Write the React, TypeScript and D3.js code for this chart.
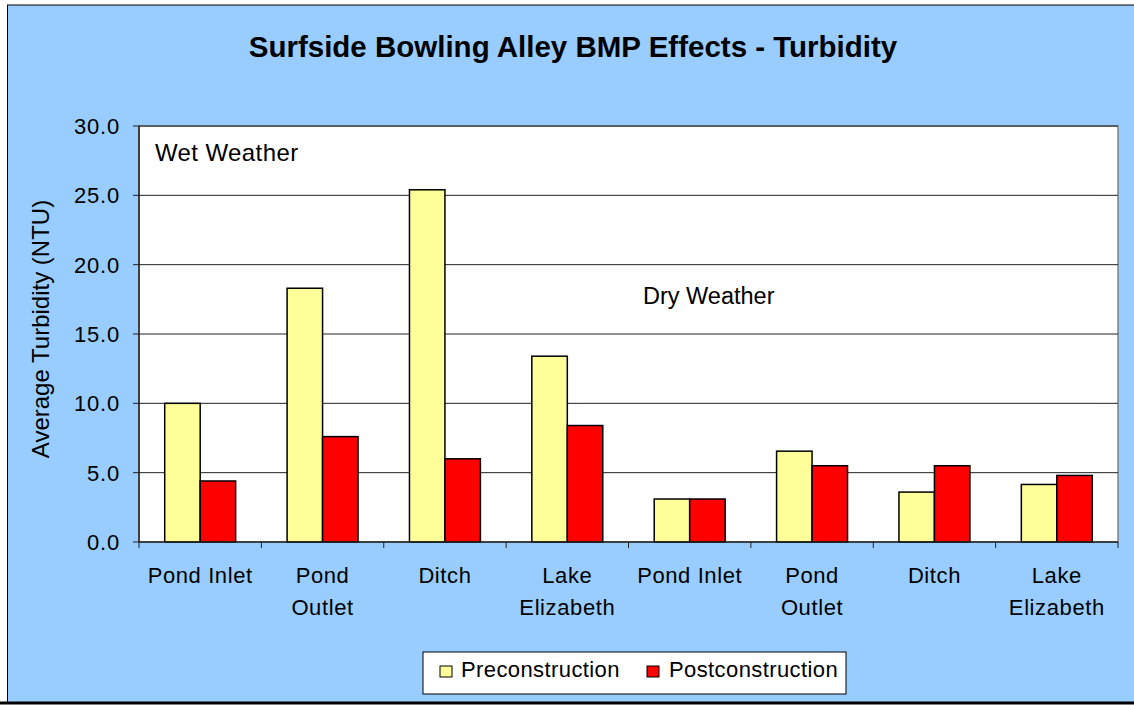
import React from "react";
import * as d3 from "d3";

const categories = ["Pond Inlet", "Pond Outlet", "Ditch", "Lake Elizabeth", "Pond Inlet", "Pond Outlet", "Ditch", "Lake Elizabeth"];
const categoryLines = [["Pond Inlet"], ["Pond", "Outlet"], ["Ditch"], ["Lake", "Elizabeth"], ["Pond Inlet"], ["Pond", "Outlet"], ["Ditch"], ["Lake", "Elizabeth"]];
const preconstruction = [10.0, 18.3, 25.4, 13.4, 3.1, 6.55, 3.6, 4.15];
const postconstruction = [4.4, 7.6, 6.0, 8.4, 3.1, 5.5, 5.5, 4.8];
const yTicks = [0, 5, 10, 15, 20, 25, 30];
const seriesNames = ["Preconstruction", "Postconstruction"];
const seriesColors = ["#FFFF99", "#FF0000"];

const W = 1134, H = 705;
const plot = { left: 139, right: 1118, top: 126, bottom: 542 };
const font = "Liberation Sans, Arial, sans-serif";

export default function App() {
  const x = d3.scaleBand<number>().domain(d3.range(categories.length)).range([plot.left, plot.right]);
  const y = d3.scaleLinear().domain([0, 30]).range([plot.bottom, plot.top]);
  const inner = d3.scaleBand<number>().domain([0, 1]).range([0, x.bandwidth()]).paddingOuter(0.725).paddingInner(0);
  const series = [preconstruction, postconstruction];

  return (
    <svg width={W} height={H} style={{ position: "absolute", left: 0, top: 0 }} fontFamily={font}>
      <rect x={0} y={0} width={W} height={H} fill="#fff" />
      <rect x={7} y={5} width={W - 7} height={697} fill="#99CCFF" />
      <line x1={7} y1={5} x2={W} y2={5} stroke="#000" strokeWidth={1} />
      <line x1={7.5} y1={5} x2={7.5} y2={703} stroke="#000" strokeWidth={1} />
      <line x1={0} y1={703} x2={W} y2={703} stroke="#000" strokeWidth={3} />

      <text x={573} y={57} textAnchor="middle" fontSize={29.5} fontWeight="bold">Surfside Bowling Alley BMP Effects - Turbidity</text>

      <rect x={plot.left} y={plot.top} width={plot.right - plot.left} height={plot.bottom - plot.top} fill="#fff" stroke="#808080" strokeWidth={1.5} />
      {yTicks.map(t => (
        <g key={t}>
          {t > 0 && <line x1={plot.left} x2={plot.right} y1={y(t)} y2={y(t)} stroke="#222" strokeWidth={1} />}
          <line x1={plot.left - 6} x2={plot.left} y1={y(t)} y2={y(t)} stroke="#222" strokeWidth={1} />
          <text x={plot.left - 19} y={y(t) + 8} textAnchor="end" fontSize={22} letterSpacing={0.8}>{t.toFixed(1)}</text>
        </g>
      ))}

      {series.map((vals, s) => vals.map((v, i) => (
        <rect key={`${s}-${i}`} x={(x(i) as number) + (inner(s) as number)} y={y(v)} width={inner.bandwidth()} height={y(0) - y(v)}
          fill={seriesColors[s]} stroke="#000" strokeWidth={1.5} />
      )))}

      <line x1={plot.left} x2={plot.left} y1={plot.top} y2={plot.bottom} stroke="#222" strokeWidth={1.5} />
      <line x1={plot.left} x2={plot.right} y1={plot.bottom} y2={plot.bottom} stroke="#222" strokeWidth={1.5} />
      {d3.range(categories.length + 1).map(i => {
        const xx = plot.left + i * x.step();
        return <line key={i} x1={xx} x2={xx} y1={plot.bottom} y2={plot.bottom + 6} stroke="#222" strokeWidth={1} />;
      })}
      {categoryLines.map((lines, i) => (
        <text key={i} x={(x(i) as number) + x.bandwidth() / 2} y={583} textAnchor="middle" fontSize={22} letterSpacing={0.6}>
          {lines.map((l, j) => <tspan key={j} x={(x(i) as number) + x.bandwidth() / 2} dy={j === 0 ? 0 : 31.5}>{l}</tspan>)}
        </text>
      ))}

      <text transform={`translate(49,329) rotate(-90)`} textAnchor="middle" fontSize={24}>Average Turbidity (NTU)</text>

      <text x={155} y={161} fontSize={24} letterSpacing={0.4}>Wet Weather</text>
      <text x={643} y={304} fontSize={23.5}>Dry Weather</text>

      <rect x={423} y={652} width={423} height={42} fill="#fff" stroke="#000" strokeWidth={1} />
      {seriesNames.map((n, s) => (
        <g key={n}>
          <rect x={440 + s * 207} y={666} width={12} height={11} fill={seriesColors[s]} stroke="#000" strokeWidth={1} />
          <text x={461 + s * 208} y={677} fontSize={22} letterSpacing={0.4}>{n}</text>
        </g>
      ))}
    </svg>
  );
}
